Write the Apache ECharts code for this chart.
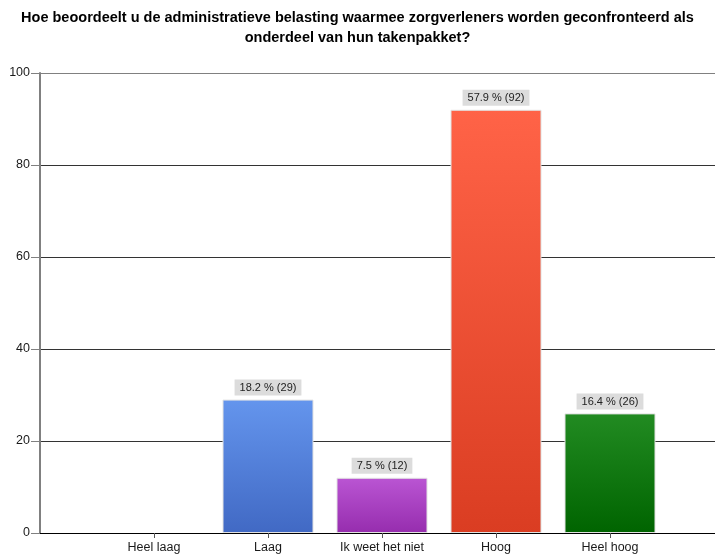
<!DOCTYPE html>
<html>
<head>
<meta charset="utf-8">
<script src="https://cdn.jsdelivr.net/npm/echarts@6/dist/echarts.min.js"></script>
<style>
  html, body { margin: 0; padding: 0; background: #fff; }
  #chart { width: 715px; height: 554px; }
</style>
</head>
<body>
<div id="chart"></div>
<script>
// Answer categories, response counts and shares (percent)
const categories = ['Heel laag', 'Laag', 'Ik weet het niet', 'Hoog', 'Heel hoog'];
const counts = [0, 29, 12, 92, 26];
const percents = [0, 18.2, 7.5, 57.9, 16.4];
const yTicks = [0, 20, 40, 60, 80, 100];

// Top / bottom gradient colours for each bar
const topColors = ['#6495ED', '#6495ED', '#BA55D3', '#FF6347', '#228B22'];
const bottomColors = ['#4169C4', '#4169C4', '#962DAE', '#DA3D22', '#006400'];

// Empty slots at both ends so the bars sit at positions 1..5 of the axis
const axisCats = [''].concat(categories, ['']);
const barData = [null].concat(categories.map((c, i) => ({
  value: counts[i],
  pct: percents[i],
  itemStyle: {
    color: new echarts.graphic.LinearGradient(0, 0, 0, 1, [
      { offset: 0, color: topColors[i] },
      { offset: 1, color: bottomColors[i] }
    ]),
    borderColor: '#e2e2e2',
    borderWidth: counts[i] > 0 ? 1 : 0
  },
  label: { show: counts[i] > 0 }
})), [null]);

const font = '"Liberation Sans", Arial, sans-serif';
const chart = echarts.init(document.getElementById('chart'), null, { renderer: 'canvas' });
chart.setOption({
  animation: false,
  backgroundColor: '#ffffff',
  title: {
    text: 'Hoe beoordeelt u de administratieve belasting waarmee zorgverleners worden geconfronteerd als\nonderdeel van hun takenpakket?',
    left: 'center',
    top: 3,
    textStyle: { fontFamily: font, fontSize: 14.5, fontWeight: 'bold', color: '#000', lineHeight: 20 }
  },
  grid: { left: 40, right: -9, top: 73, bottom: 21, containLabel: false, outerBoundsMode: 'none' },
  xAxis: {
    type: 'category',
    data: axisCats,
    boundaryGap: false,
    axisLine: { lineStyle: { color: '#000', width: 1 } },
    axisTick: {
      length: 5,
      lineStyle: { color: '#555' },
      interval: (idx) => idx > 0 && idx < axisCats.length - 1
    },
    axisLabel: {
      interval: 0,
      margin: 8,
      fontFamily: font,
      fontSize: 12.5,
      color: '#1a1a1a'
    },
    splitLine: { show: false }
  },
  yAxis: {
    type: 'value',
    min: yTicks[0],
    max: yTicks[yTicks.length - 1],
    interval: 20,
    axisLine: { show: true, lineStyle: { color: '#808080', width: 2 } },
    axisTick: { show: true, length: 9, lineStyle: { color: '#808080' } },
    axisLabel: { margin: 10, fontFamily: font, fontSize: 12.5, color: '#1a1a1a' },
    splitLine: {
      show: true,
      lineStyle: { color: ['#000', '#333', '#333', '#333', '#333', '#808080'], width: 1 }
    }
  },
  series: [{
    type: 'bar',
    data: barData,
    barWidth: 91,
    label: {
      position: 'top',
      distance: 4,
      fontFamily: font,
      fontSize: 11,
      color: '#222',
      backgroundColor: '#dcdcdc',
      padding: [3, 5, 2, 5],
      formatter: (p) => p.data.pct.toFixed(1) + ' % (' + p.data.value + ')'
    }
  }]
});
</script>
</body>
</html>
